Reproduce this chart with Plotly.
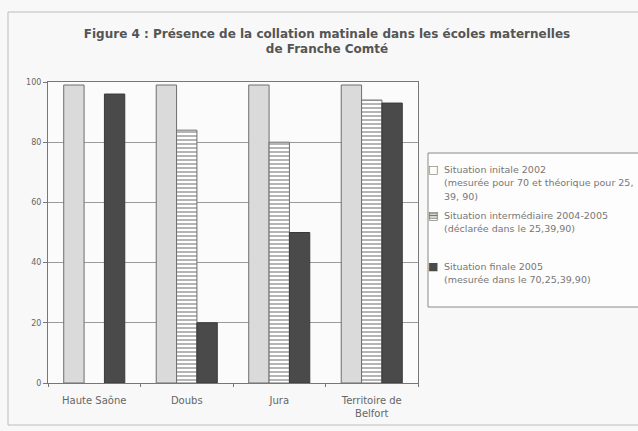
import plotly.graph_objects as go

categories = ["Haute Saône", "Doubs", "Jura", "Territoire de<br>Belfort"]
initiale = [99, 99, 99, 99]
intermediaire = [None, 84, 80, 94]
finale = [96, 20, 50, 93]
y_ticks = [0, 20, 40, 60, 80, 100]

series_names = ["Situation initale 2002", "Situation intermédiaire 2004-2005", "Situation finale 2005"]
legend_notes = [
    ["(mesurée pour 70 et théorique pour 25,", "39, 90)"],
    ["(déclarée dans le 25,39,90)"],
    ["(mesurée dans le 70,25,39,90)"],
]

W, H = 638, 431
L, R, T, B = 48, 220, 82, 48
pw, ph = W - L - R, H - T - B
FONT = "DejaVu Sans, Arial, sans-serif"

fig = go.Figure()
fig.add_trace(go.Bar(
    x=categories, y=initiale, name=series_names[0],
    marker=dict(color="#dadada", line=dict(color="#6e6e6e", width=1)),
))
fig.add_trace(go.Bar(
    x=categories, y=intermediaire, name=series_names[1],
    marker=dict(color="#ffffff", line=dict(color="#6e6e6e", width=1),
                pattern=dict(shape="-", fgcolor="#5a5a5a", bgcolor="#ffffff",
                             size=4, solidity=0.45)),
))
fig.add_trace(go.Bar(
    x=categories, y=finale, name=series_names[2],
    marker=dict(color="#4a4a4a", line=dict(color="#3a3a3a", width=1)),
))

def px_x(p):
    return (p - L) / pw

def px_y(p):
    return (H - B - p) / ph

fig.update_layout(
    width=W, height=H,
    margin=dict(l=L, r=R, t=T, b=B, autoexpand=False),
    paper_bgcolor="#f8f8f8",
    plot_bgcolor="#fbfbfb",
    barmode="group", bargap=0.34, bargroupgap=0,
    font=dict(family=FONT, color="#555555", size=9),
    title=dict(
        text="<b>Figure 4 : Présence de la collation matinale dans les écoles maternelles<br>de Franche Comté</b>",
        x=px_x(327), xref="paper", xanchor="center",
        y=1 - 37.5 / H, yref="container", yanchor="top",
        font=dict(size=12, color="#555555", family=FONT),
    ),
    showlegend=False,
)
fig.update_xaxes(
    showline=True, linecolor="#777777", linewidth=1, mirror=True,
    ticks="outside", tickson="boundaries", ticklen=3, tickcolor="#777777",
    tickfont=dict(size=10, color="#666666", family=FONT),
    ticklabelstandoff=8,
)
fig.update_yaxes(
    range=[0, 100], tickvals=y_ticks,
    showline=True, linecolor="#777777", linewidth=1, mirror=True,
    ticks="outside", ticklen=4, tickcolor="#777777",
    showgrid=True, gridcolor="#9a9a9a", gridwidth=1,
    tickfont=dict(size=8, color="#666666", family=FONT),
    zeroline=False,
)
# outer frame
fig.add_shape(type="rect", xref="paper", yref="paper",
              x0=px_x(8), x1=px_x(660), y0=px_y(425), y1=px_y(12),
              line=dict(color="#bdbdbd", width=1), layer="below")
# legend box
fig.add_shape(type="rect", xref="paper", yref="paper",
              x0=px_x(428), x1=px_x(660), y0=px_y(307), y1=px_y(153),
              line=dict(color="#8a8a8a", width=1), fillcolor="#fdfdfd",
              layer="below")

# legend entries (swatch glyph + text lines)
swatches = [("□", "#6a6a6a"), ("▤", "#5a5a5a"), ("■", "#4a4a4a")]
entry_tops = [169, 215, 266]
line_step = 13.5
for (glyph, gcol), name, notes, y0 in zip(swatches, series_names, legend_notes, entry_tops):
    fig.add_annotation(text=glyph, xref="paper", yref="paper",
                       x=px_x(433.5), y=px_y(y0), xanchor="center", yanchor="middle",
                       showarrow=False, font=dict(size=11, color=gcol, family=FONT))
    for i, line in enumerate([name] + notes):
        fig.add_annotation(text=line, xref="paper", yref="paper",
                           x=px_x(442), y=px_y(y0 + i * line_step),
                           xanchor="left", yanchor="middle", showarrow=False,
                           font=dict(size=9.5, color="#777777", family=FONT))

fig.write_html("out.html")
